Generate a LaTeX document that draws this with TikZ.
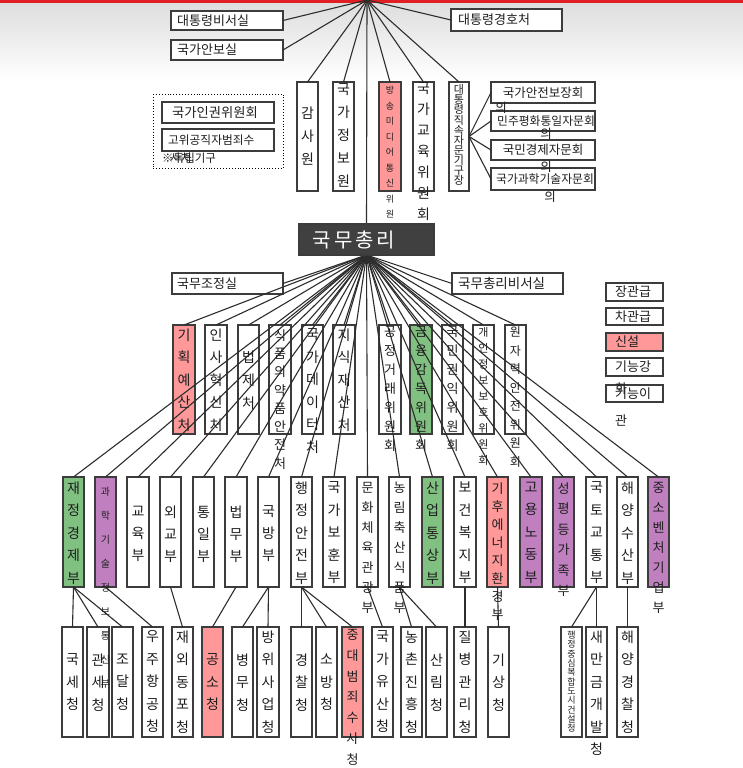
\documentclass[tikz,border=0pt]{standalone}
\usepackage{fontspec}
\setmainfont{Noto Sans CJK KR}
\definecolor{bord}{RGB}{60,60,60}
\definecolor{lnc}{RGB}{45,45,45}
\definecolor{txtc}{RGB}{30,30,30}
\definecolor{newc}{RGB}{255,153,153}
\definecolor{grnc}{RGB}{128,192,128}
\definecolor{purc}{RGB}{192,128,192}
\definecolor{pmfill}{RGB}{64,64,64}
\definecolor{topred}{RGB}{225,30,35}
\pgfdeclarelayer{lines}\pgfdeclarelayer{txt}\pgfdeclarelayer{topl}
\pgfsetlayers{main,lines,txt,topl}
\tikzset{
 bxs/.style={draw=bord,line width=1.3pt,inner sep=0pt,outer sep=0pt},
 ln/.style={draw=lnc,line width=1.1pt},
 vts/.style={anchor=north,align=center,inner sep=0pt,text=txtc},
 hts/.style={inner sep=0pt,text=txtc},
}
\newcommand\bxx[6]{\node[bxs,fill=#6,minimum width={(#4-#2)*1pt},minimum height={(#5-#3)*1pt},anchor=north west] (#1) at (#2,#3) {};}
\newcommand\vtx[6]{\node[vts,font=\fontsize{#4pt}{#5pt}\selectfont] (#1) at (#2,{#3-0.45*#4}) {#6};}
\newcommand\hlx[6]{\node[hts,font=\fontsize{#4pt}{#4pt}\selectfont,anchor=#5] (#1) at (#2,#3) {#6};}
\begin{document}
\begin{tikzpicture}[x=1pt,y=-1pt]
\useasboundingbox (0,0) rectangle (743,768);
\fill[white] (0,0) rectangle (743,768);
\shade[top color=black!13,bottom color=white] (0,3) rectangle (743,80);
\fill[topred] (0,0) rectangle (743,3);
\coordinate (root) at (367,0);
% top boxes
\bxx{bs}{171}{11}{283}{30}{white}
\bxx{an}{171}{40}{283}{60}{white}
\bxx{gh}{451}{9}{562}{31}{white}
\bxx{gsw}{297}{82}{318}{191}{white}
\bxx{gjw}{333}{82}{354}{191}{white}
\bxx{bmt}{379}{82}{401}{191}{newc}
\bxx{gew}{413}{82}{434}{191}{white}
\bxx{dtj}{449}{82}{469}{191}{white}
\bxx{ra}{491}{82}{595}{103}{white}
\bxx{rb}{491}{111}{595}{131}{white}
\bxx{rc}{491}{140}{595}{160}{white}
\bxx{rd}{491}{168}{595}{190}{white}
\node[draw=black,dotted,line width=0.9pt,inner sep=0pt,minimum width=130pt,minimum height=74pt,anchor=north west] (ind) at (153,94) {};
\bxx{ig}{162}{102}{274}{123}{white}
\bxx{gw}{162}{129}{274}{151}{white}
\begin{pgfonlayer}{topl}
\node[bxs,fill=pmfill,minimum width=135pt,minimum height=31pt,anchor=north west] (pm) at (299,224) {};
\node[inner sep=0pt,text=white,font=\fontsize{20pt}{20pt}\selectfont] (pmt) at (354,240) {국\hspace{3pt}무\hspace{3pt}총\hspace{3pt}리};
\end{pgfonlayer}
\bxx{jo}{172}{273}{283}{294}{white}
\bxx{pb}{452}{273}{563}{294}{white}
% legend
\bxx{l1}{606}{283}{663}{301}{white}
\bxx{l2}{606}{308}{663}{325}{white}
\bxx{l3}{606}{333}{663}{351}{newc}
\bxx{l4}{606}{358}{663}{376}{white}
\bxx{l5}{606}{385}{663}{402}{white}
% row 3
\bxx{c1}{173}{325}{195}{434}{newc}
\bxx{c2}{205}{325}{227}{434}{white}
\bxx{c3}{238}{325}{259}{434}{white}
\bxx{c4}{269}{325}{291}{434}{white}
\bxx{c5}{302}{325}{323}{434}{white}
\bxx{c6}{333}{325}{355}{434}{white}
\bxx{c7}{379}{325}{401}{434}{white}
\bxx{c8}{410}{325}{432}{434}{grnc}
\bxx{c9}{442}{325}{463}{434}{white}
\bxx{c10}{473}{325}{494}{434}{white}
\bxx{c11}{505}{325}{526}{434}{white}
% row 4
\bxx{m1}{63}{477}{84}{587}{grnc}
\bxx{m2}{95}{477}{116}{587}{purc}
\bxx{m3}{127}{477}{149}{587}{white}
\bxx{m4}{160}{477}{181}{587}{white}
\bxx{m5}{193}{477}{214}{587}{white}
\bxx{m6}{225}{477}{247}{587}{white}
\bxx{m7}{258}{477}{279}{587}{white}
\bxx{m8}{291}{477}{312}{587}{white}
\bxx{m9}{323}{477}{345}{587}{white}
\bxx{m10}{357}{477}{378}{587}{white}
\bxx{m11}{389}{477}{410}{587}{white}
\bxx{m12}{422}{477}{443}{587}{grnc}
\bxx{m13}{454}{477}{476}{587}{white}
\bxx{m14}{487}{477}{508}{587}{newc}
\bxx{m15}{520}{477}{542}{587}{purc}
\bxx{m16}{553}{477}{574}{587}{purc}
\bxx{m17}{586}{477}{607}{587}{white}
\bxx{m18}{617}{477}{638}{587}{white}
\bxx{m19}{648}{477}{669}{587}{purc}
% row 5
\bxx{a1}{62}{627}{83}{737}{white}
\bxx{a2}{87}{627}{109}{737}{white}
\bxx{a3}{112}{627}{133}{737}{white}
\bxx{a4}{142}{627}{163}{737}{white}
\bxx{a5}{172}{627}{193}{737}{white}
\bxx{a6}{202}{627}{223}{737}{newc}
\bxx{a7}{232}{627}{253}{737}{white}
\bxx{a8}{257}{627}{279}{737}{white}
\bxx{a9}{291}{627}{312}{737}{white}
\bxx{a10}{316}{627}{337}{737}{white}
\bxx{a11}{342}{627}{363}{737}{newc}
\bxx{a12}{372}{627}{393}{737}{white}
\bxx{a13}{401}{627}{422}{737}{white}
\bxx{a14}{426}{627}{447}{737}{white}
\bxx{a15}{454}{627}{476}{737}{white}
\bxx{a16}{488}{627}{509}{737}{white}
\bxx{a17}{561}{627}{582}{737}{white}
\bxx{a18}{586}{627}{607}{737}{white}
\bxx{a19}{617}{627}{638}{737}{white}
% connectors
\begin{pgfonlayer}{lines}
\draw[ln] (root) -- (bs.east);
\draw[ln] (root) -- (an.east);
\draw[ln] (root) -- (gh.west);
\foreach \n in {gsw,gjw,bmt,gew,dtj,pm} \draw[ln] (root) -- (\n.north);
\foreach \n in {ra,rb,rc,rd} \draw[ln] (dtj.east) -- (\n.west);
\draw[ln] (pm.south) -- (jo.east);
\draw[ln] (pm.south) -- (pb.west);
\foreach \i in {1,...,11} \draw[ln] (pm.south) -- (c\i.north);
\foreach \i in {1,...,19} \draw[ln] (pm.south) -- (m\i.north);
\foreach \a/\b in {m1/a1,m1/a2,m1/a3,m2/a4,m4/a5,m6/a6,m7/a7,m7/a8,m8/a9,m8/a10,m8/a11,m10/a12,m11/a13,m11/a14,m13/a15,m14/a16,m17/a17,m17/a18,m18/a19}
  \draw[ln] (\a.south) -- (\b.north);
\end{pgfonlayer}
% texts
\begin{pgfonlayer}{txt}
\hlx{tbs}{177}{20.5}{13}{west}{대통령비서실}
\hlx{tan}{177}{50}{13}{west}{국가안보실}
\hlx{tgh}{458}{20}{13}{west}{대통령경호처}
\vtx{tgsw}{307.5}{113}{14}{23}{감\\사\\원}
\vtx{tgjw}{343.5}{90}{14}{23}{국\\가\\정\\보\\원}
\vtx{tbmt}{390}{90}{9}{15.5}{방\\송\\미\\디\\어\\통\\신\\위\\원\\회}
\vtx{tgew}{423.5}{89}{14}{21}{국\\가\\교\\육\\위\\원\\회}
\vtx{tdtj}{459}{89}{11}{10}{대\\통\\령\\직\\속\\자\\문\\기\\구\\장}
\hlx{tra}{543}{92.5}{12.5}{center}{국가안전보장회}
\hlx{tra2}{501}{108}{12.5}{center}{의}
\hlx{trb}{546}{121}{11.8}{center}{민주평화통일자문회}
\hlx{trb2}{546}{134}{12.5}{center}{의}
\hlx{trc}{543}{150}{12.5}{center}{국민경제자문회}
\hlx{trc2}{546}{167}{12.5}{center}{의}
\hlx{trd}{545}{179}{11.8}{center}{국가과학기술자문회}
\hlx{trd2}{550}{197}{12.5}{center}{의}
\hlx{tig}{215}{112.5}{13.3}{center}{국가인권위원회}
\hlx{tgw}{168}{140}{11.7}{west}{고위공직자범죄수}
\hlx{tgw2}{170}{158}{11.7}{west}{사처}
\hlx{tind}{162}{158.5}{11.5}{west}{※독립기구}
\hlx{tjo}{177}{283.5}{13}{west}{국무조정실}
\hlx{tpb}{458}{283.5}{13.5}{west}{국무총리비서실}
\hlx{tl1}{615}{292}{13}{west}{장관급}
\hlx{tl2}{615}{316.5}{13}{west}{차관급}
\hlx{tl3}{615}{342}{13}{west}{신설}
\hlx{tl4}{615}{367}{13}{west}{기능강}
\hlx{tl4b}{615}{389}{13}{west}{화}
\hlx{tl5}{615}{393.5}{13}{west}{기능이}
\hlx{tl5b}{615}{420}{13}{west}{관}
% row 3 text
\vtx{tc1}{184}{335}{14}{22.5}{기\\획\\예\\산\\처}
\vtx{tc2}{216}{335}{14}{22.5}{인\\사\\혁\\신\\처}
\vtx{tc3}{248.5}{357}{14}{23}{법\\제\\처}
\vtx{tc4}{280}{335}{13}{18.3}{식\\품\\의\\약\\품\\안\\전\\처}
\vtx{tc5}{312.5}{335}{14}{22.5}{국\\가\\데\\이\\터\\처}
\vtx{tc6}{344}{335}{14}{22.5}{지\\식\\재\\산\\처}
\vtx{tc7}{390}{332}{13}{19}{공\\정\\거\\래\\위\\원\\회}
\vtx{tc8}{421}{332}{13}{19}{금\\융\\감\\독\\위\\원\\회}
\vtx{tc9}{452.5}{332}{13}{19}{국\\민\\권\\익\\위\\원\\회}
\vtx{tc10}{483.5}{332}{11}{16}{개\\인\\정\\보\\보\\호\\위\\원\\회}
\vtx{tc11}{515.5}{332}{12}{18.5}{원\\자\\력\\안\\전\\위\\원\\회}
% row 4 text
\vtx{tm1}{73.5}{488}{14}{22.5}{재\\정\\경\\제\\부}
\vtx{tm2}{105.5}{492}{10}{24}{과\\학\\기\\술\\정\\보\\통\\신\\부}
\vtx{tm3}{138}{512}{14}{22}{교\\육\\부}
\vtx{tm4}{170.5}{512}{14}{22}{외\\교\\부}
\vtx{tm5}{203.5}{512}{14}{22}{통\\일\\부}
\vtx{tm6}{236}{512}{14}{22}{법\\무\\부}
\vtx{tm7}{268.5}{512}{14}{22}{국\\방\\부}
\vtx{tm8}{301.5}{488}{14}{22.5}{행\\정\\안\\전\\부}
\vtx{tm9}{334}{488}{14}{22.5}{국\\가\\보\\훈\\부}
\vtx{tm10}{367.5}{488}{13}{20}{문\\화\\체\\육\\관\\광\\부}
\vtx{tm11}{399.5}{488}{13}{20}{농\\림\\축\\산\\식\\품\\부}
\vtx{tm12}{432.5}{488}{14}{22.5}{산\\업\\통\\상\\부}
\vtx{tm13}{465}{488}{14}{22.5}{보\\건\\복\\지\\부}
\vtx{tm14}{497.5}{488}{13}{18}{기\\후\\에\\너\\지\\환\\경\\부}
\vtx{tm15}{531}{488}{14}{22.5}{고\\용\\노\\동\\부}
\vtx{tm16}{563.5}{488}{13}{20.5}{성\\평\\등\\가\\족\\부}
\vtx{tm17}{596.5}{488}{14}{22.5}{국\\토\\교\\통\\부}
\vtx{tm18}{627.5}{488}{14}{22.5}{해\\양\\수\\산\\부}
\vtx{tm19}{658.5}{488}{13}{20}{중\\소\\벤\\처\\기\\업\\부}
% row 5 text
\vtx{ta1}{72.5}{660}{14}{22.5}{국\\세\\청}
\vtx{ta2}{98}{660}{14}{22.5}{관\\세\\청}
\vtx{ta3}{122.5}{660}{14}{22.5}{조\\달\\청}
\vtx{ta4}{152.5}{637}{14}{22.5}{우\\주\\항\\공\\청}
\vtx{ta5}{182.5}{637}{14}{22.5}{재\\외\\동\\포\\청}
\vtx{ta6}{212.5}{660}{14}{22.5}{공\\소\\청}
\vtx{ta7}{242.5}{660}{14}{22.5}{병\\무\\청}
\vtx{ta8}{268}{637}{14}{22.5}{방\\위\\사\\업\\청}
\vtx{ta9}{301.5}{660}{14}{22.5}{경\\찰\\청}
\vtx{ta10}{326.5}{660}{14}{22.5}{소\\방\\청}
\vtx{ta11}{352.5}{635}{13}{20.8}{중\\대\\범\\죄\\수\\사\\청}
\vtx{ta12}{382.5}{637}{14}{22.5}{국\\가\\유\\산\\청}
\vtx{ta13}{411.5}{637}{14}{22.5}{농\\촌\\진\\흥\\청}
\vtx{ta14}{436.5}{660}{14}{22.5}{산\\림\\청}
\vtx{ta15}{465}{637}{14}{22.5}{질\\병\\관\\리\\청}
\vtx{ta16}{498.5}{660}{14}{22.5}{기\\상\\청}
\vtx{ta17}{571.5}{635}{9}{9.3}{행\\정\\중\\심\\복\\합\\도\\시\\건\\설\\청}
\vtx{ta18}{596.5}{637}{14}{22.5}{새\\만\\금\\개\\발\\청}
\vtx{ta19}{627.5}{637}{14}{22.5}{해\\양\\경\\찰\\청}
\end{pgfonlayer}
\end{tikzpicture}
\end{document}
